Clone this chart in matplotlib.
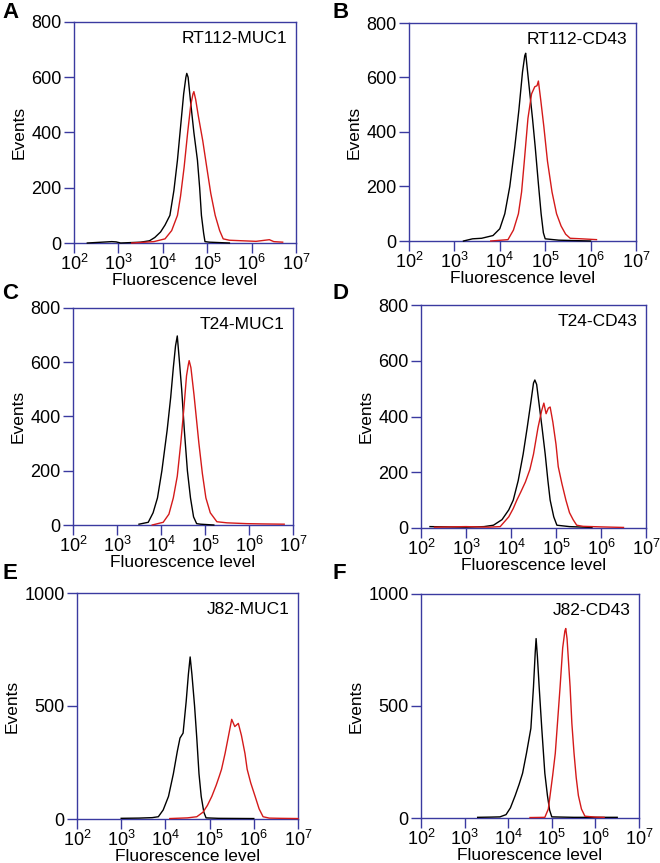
import numpy as np
import matplotlib
matplotlib.use("Agg")
import matplotlib.pyplot as plt
from matplotlib.ticker import LogLocator, FixedLocator, NullFormatter, FuncFormatter

plt.rcParams["font.family"] = ["Liberation Sans", "DejaVu Sans"]
plt.rcParams["mathtext.fontset"] = "custom"
plt.rcParams["mathtext.rm"] = "Liberation Sans"
plt.rcParams["mathtext.it"] = "Liberation Sans:italic"
plt.rcParams["mathtext.bf"] = "Liberation Sans:bold"

# ── Data (fluorescence in log10 units, counts) ────────────────────────────────
panel_letters = ["A", "B", "C", "D", "E", "F"]
panel_names = ["RT112-MUC1", "RT112-CD43", "T24-MUC1", "T24-CD43", "J82-MUC1", "J82-CD43"]
y_max = [800, 800, 800, 800, 1000, 1000]
y_ticks = [[0, 200, 400, 600, 800]] * 4 + [[0, 500, 1000]] * 2

# isotype control (black)
ctrl_A_x = [2.3, 2.85, 2.95, 3.05, 3.5, 3.7, 3.82, 3.95, 4.05, 4.16, 4.25, 4.33, 4.40, 4.47, 4.52, 4.54, 4.57, 4.62, 4.70, 4.78, 4.83, 4.87, 4.92, 4.95, 5.05, 5.5]
ctrl_A_y = [0, 5, 4, 0, 3, 8, 20, 40, 65, 100, 190, 300, 420, 540, 600, 614, 600, 520, 400, 300, 200, 100, 35, 5, 3, 0]
ctrl_B_x = [3.2, 3.4, 3.6, 3.85, 4.0, 4.11, 4.22, 4.33, 4.42, 4.50, 4.55, 4.57, 4.60, 4.65, 4.72, 4.78, 4.85, 4.91, 4.96, 5.0, 5.3, 6.0]
ctrl_B_y = [0, 8, 10, 20, 45, 100, 200, 345, 480, 620, 680, 689, 640, 560, 450, 345, 210, 100, 30, 8, 3, 0]
ctrl_C_x = [3.5, 3.71, 3.82, 3.92, 4.02, 4.14, 4.22, 4.28, 4.33, 4.37, 4.41, 4.47, 4.53, 4.60, 4.67, 4.74, 4.81, 4.9, 5.2]
ctrl_C_y = [3, 10, 45, 100, 200, 350, 470, 580, 660, 697, 620, 500, 350, 200, 100, 30, 5, 3, 0]
ctrl_D_x = [2.2, 3.0, 3.4, 3.61, 3.80, 3.95, 4.05, 4.16, 4.27, 4.36, 4.44, 4.50, 4.53, 4.57, 4.62, 4.69, 4.76, 4.82, 4.87, 4.95, 5.02, 5.3, 5.8]
ctrl_D_y = [5, 3, 5, 10, 30, 65, 100, 170, 265, 360, 450, 520, 531, 515, 450, 360, 265, 170, 100, 40, 10, 5, 2]
ctrl_E_x = [3.0, 3.4, 3.7, 3.84, 3.95, 4.07, 4.18, 4.27, 4.33, 4.40, 4.47, 4.52, 4.56, 4.60, 4.66, 4.71, 4.76, 4.81, 4.87, 4.92, 5.2, 6.0]
ctrl_E_y = [3, 4, 6, 10, 40, 100, 200, 300, 358, 380, 520, 640, 717, 640, 500, 358, 200, 100, 30, 5, 3, 2]
ctrl_F_x = [3.3, 3.6, 3.81, 3.95, 4.05, 4.16, 4.25, 4.33, 4.42, 4.52, 4.58, 4.62, 4.64, 4.67, 4.71, 4.77, 4.84, 4.90, 4.95, 5.0, 5.5, 6.5]
ctrl_F_y = [3, 4, 5, 15, 45, 100, 150, 200, 290, 400, 586, 740, 801, 720, 586, 400, 200, 100, 35, 5, 3, 3]

# antibody stained (red)
stain_A_x = [3.3, 3.8, 4.05, 4.2, 4.33, 4.40, 4.48, 4.56, 4.63, 4.68, 4.70, 4.74, 4.80, 4.90, 4.99, 5.08, 5.18, 5.28, 5.36, 5.5, 5.8, 6.1, 6.4, 6.5, 6.7]
stain_A_y = [0, 5, 15, 45, 100, 170, 274, 400, 500, 540, 548, 520, 460, 370, 274, 180, 100, 45, 15, 10, 8, 6, 12, 5, 3]
stain_B_x = [3.8, 4.18, 4.30, 4.41, 4.48, 4.54, 4.62, 4.70, 4.77, 4.82, 4.85, 4.90, 4.97, 5.05, 5.15, 5.25, 5.35, 5.45, 5.55, 5.8, 6.13]
stain_B_y = [0, 5, 40, 100, 180, 293, 450, 540, 566, 570, 587, 520, 420, 293, 180, 100, 55, 25, 10, 8, 5]
stain_C_x = [3.8, 4.05, 4.18, 4.28, 4.37, 4.45, 4.52, 4.58, 4.62, 4.64, 4.68, 4.75, 4.86, 4.94, 5.02, 5.12, 5.27, 5.5, 5.95, 6.3, 6.8]
stain_C_y = [0, 10, 40, 100, 180, 303, 430, 550, 590, 606, 580, 480, 303, 190, 100, 45, 12, 8, 5, 4, 3]
stain_D_x = [2.3, 3.0, 3.5, 3.76, 3.95, 4.05, 4.13, 4.22, 4.32, 4.42, 4.50, 4.60, 4.68, 4.73, 4.78, 4.83, 4.87, 4.93, 5.0, 5.05, 5.13, 5.22, 5.30, 5.38, 5.46, 5.6, 6.0, 6.5]
stain_D_y = [3, 5, 3, 5, 40, 70, 100, 130, 165, 210, 265, 360, 420, 448, 410, 430, 434, 380, 300, 220, 160, 100, 55, 30, 10, 6, 4, 2]
stain_E_x = [4.1, 4.5, 4.71, 4.85, 4.95, 5.05, 5.15, 5.22, 5.27, 5.35, 5.42, 5.50, 5.57, 5.65, 5.72, 5.80, 5.85, 5.93, 6.03, 6.12, 6.21, 6.35, 6.6, 7.0]
stain_E_y = [2, 5, 10, 30, 60, 100, 150, 190, 220, 290, 360, 441, 409, 423, 370, 290, 220, 160, 100, 45, 10, 4, 3, 2]
stain_F_x = [4.5, 4.84, 4.92, 4.96, 5.02, 5.08, 5.13, 5.19, 5.25, 5.30, 5.32, 5.35, 5.42, 5.46, 5.51, 5.56, 5.61, 5.68, 5.76, 6.0, 6.2]
stain_F_y = [2, 3, 40, 100, 190, 289, 423, 585, 760, 835, 846, 800, 585, 423, 289, 180, 100, 40, 8, 4, 3]

ctrl = [(ctrl_A_x, ctrl_A_y), (ctrl_B_x, ctrl_B_y), (ctrl_C_x, ctrl_C_y),
        (ctrl_D_x, ctrl_D_y), (ctrl_E_x, ctrl_E_y), (ctrl_F_x, ctrl_F_y)]
stain = [(stain_A_x, stain_A_y), (stain_B_x, stain_B_y), (stain_C_x, stain_C_y),
         (stain_D_x, stain_D_y), (stain_E_x, stain_E_y), (stain_F_x, stain_F_y)]

# ── Layout (axes boxes in pixels: left, top, right, bottom) ──────────────────
W, H = 660, 863
boxes = [(74, 22, 296, 243), (409, 23, 636, 241),
         (73, 308, 293, 525), (421, 305, 646, 528),
         (77, 593, 298, 819), (421, 594, 639, 818)]
letter_pos = [(2, 2), (332, 2), (2, 283), (332, 283), (2, 563), (332, 563)]
SPINE = "#3a3aa0"

fig = plt.figure(figsize=(W / 100, H / 100), dpi=100)

def log_fmt(v, pos):
    return r"$10^{%d}$" % int(round(np.log10(v)))

for i, (l, t, r, b) in enumerate(boxes):
    ax = fig.add_axes([l / W, 1 - b / H, (r - l) / W, (b - t) / H])
    cx, cy = ctrl[i]
    sx, sy = stain[i]
    ax.plot(10 ** np.array(cx), cy, color="black", lw=1.0, clip_on=False, zorder=3)
    ax.plot(10 ** np.array(sx), sy, color="#d41a1a", lw=1.0, clip_on=False, zorder=3)

    ax.set_xscale("log")
    ax.set_xlim(1e2, 1e7)
    ax.set_ylim(0, y_max[i])
    ax.xaxis.set_major_locator(FixedLocator([1e2, 1e3, 1e4, 1e5, 1e6, 1e7]))
    ax.xaxis.set_major_formatter(FuncFormatter(log_fmt))
    ax.xaxis.set_minor_locator(LogLocator(base=10, subs=np.arange(2, 10)))
    ax.xaxis.set_minor_formatter(NullFormatter())
    ax.set_yticks(y_ticks[i])

    for sp in ax.spines.values():
        sp.set_color(SPINE)
        sp.set_linewidth(1.0)
    ax.tick_params(axis="x", which="major", direction="out", length=7, width=1,
                   color=SPINE, labelsize=13, pad=1)
    ax.tick_params(axis="x", which="minor", direction="out", length=5, width=0.8,
                   color=SPINE)
    ax.tick_params(axis="y", direction="out", length=7, width=1, color=SPINE,
                   labelsize=13, pad=2)

    ax.set_xlabel("Fluorescence level", fontsize=12.5, labelpad=-1)
    ax.set_ylabel("Events", fontsize=12.5, labelpad=3)
    ax.text(0.96, 0.96, panel_names[i], transform=ax.transAxes,
            ha="right", va="top", fontsize=12.5)

    lx, ty = letter_pos[i]
    fig.text(lx / W, 1 - ty / H, panel_letters[i], ha="left", va="top",
             fontsize=16, fontweight="bold")

fig.savefig("out.png", dpi=100)
